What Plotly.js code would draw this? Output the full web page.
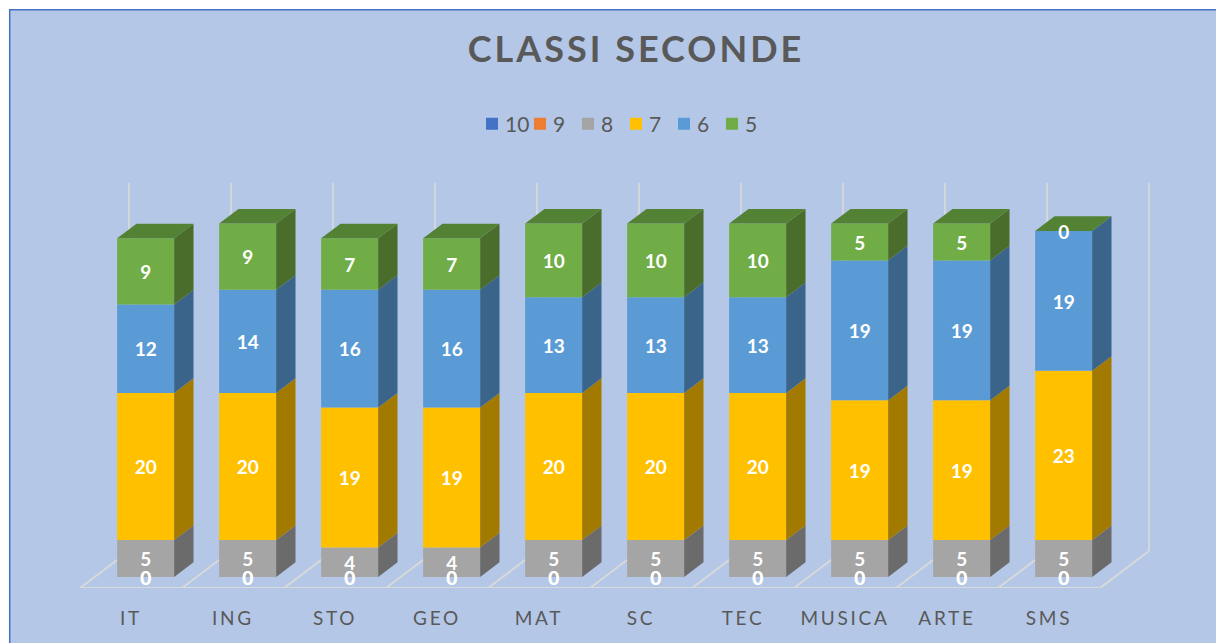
<!DOCTYPE html>
<html>
<head>
<meta charset="utf-8">
<script src="https://cdn.plot.ly/plotly-3.0.1.min.js"></script>
<style>
html,body{margin:0;padding:0;background:#fff;overflow:hidden}
#chart{width:1216px;height:643px}
.gtitle{letter-spacing:3px}
.xtick text{letter-spacing:2.7px}
.legendtext{transform:translateX(-7px)}
.legendbar{transform:scale(1.17)}
</style>
</head>
<body>
<div id="chart"></div>
<script>
const categories = ["IT","ING","STO","GEO","MAT","SC","TEC","MUSICA","ARTE","SMS"];
const s10 = [0,0,0,0,0,0,0,0,0,0];
const s9  = [0,0,0,0,0,0,0,0,0,0];
const s8  = [5,5,4,4,5,5,5,5,5,5];
const s7  = [20,20,19,19,20,20,20,19,19,23];
const s6  = [12,14,16,16,13,13,13,19,19,19];
const s5  = [9,9,7,7,10,10,10,5,5,0];
const seriesNames = ["10","9","8","7","6","5"];
const seriesValues = [s10,s9,s8,s7,s6,s5];
const frontColors = ["#4472C4","#ED7D31","#A5A5A5","#FFC000","#5B9BD5","#70AD47"];
const sideColors  = ["#2F528F","#A5571F","#6B6B6B","#A37A00","#3A648A","#4A6D2B"];
const topColor = "#548235";
const gridColor = "#D3D6DB";
const floorColor = "#D9D9D9";

const W = 1216, H = 643, floorPx = 588, leftPx = 80, unitX = 102, unitY = 7.36;
const DX = 49/unitX, DY = 37/unitY;          // full depth of the floor in axis units
const gap = 0.22, barW = 0.559;              // bar inset and width within a category
const d0 = 0.3, d1 = 0.695;                  // front and back of bars in depth
const yTop = 50;
const labelDrop = 3/unitY;                   // optical centring of the data labels
const proj = (x,v,d)=>[x + d*DX, v + d*DY];

const traces = [];
const cum = categories.map(()=>0);
const bases = seriesValues.map(vals=>{
  const b = cum.slice();
  vals.forEach((v,i)=>cum[i]+=v);
  return b;
});

// front faces, real bars
seriesValues.forEach((vals,k)=>{
  traces.push({
    type:"bar", name:seriesNames[k],
    x:categories.map((_,i)=>proj(i+gap+barW/2,0,d0)[0]),
    y:vals,
    base:bases[k].map(b=>proj(0,b,d0)[1]),
    width:barW,
    marker:{color:frontColors[k], line:{width:0}},
    hoverinfo:"skip", showlegend:true
  });
});

// right side faces
seriesValues.forEach((vals,k)=>{
  const xs=[],ys=[];
  vals.forEach((v,i)=>{
    if(v<=0) return;
    const r=i+gap+barW, b=bases[k][i], t=b+v;
    [[r,b,d0],[r,b,d1],[r,t,d1],[r,t,d0],[r,b,d0]].forEach(p=>{
      const q=proj(p[0],p[1],p[2]); xs.push(q[0]); ys.push(q[1]);
    });
    xs.push(null); ys.push(null);
  });
  if(xs.length) traces.push({type:"scatter",mode:"lines",x:xs,y:ys,fill:"toself",
    fillcolor:sideColors[k],line:{width:0,color:sideColors[k]},hoverinfo:"skip",showlegend:false});
});

// top faces
{
  const xs=[],ys=[];
  categories.forEach((_,i)=>{
    const l=i+gap, r=l+barW, t=cum[i];
    [[l,d0],[r,d0],[r,d1],[l,d1],[l,d0]].forEach(p=>{
      const q=proj(p[0],t,p[1]); xs.push(q[0]); ys.push(q[1]);
    });
    xs.push(null); ys.push(null);
  });
  traces.push({type:"scatter",mode:"lines",x:xs,y:ys,fill:"toself",fillcolor:topColor,
    line:{width:0,color:topColor},hoverinfo:"skip",showlegend:false});
}

// data labels
seriesValues.forEach((vals,k)=>{
  traces.push({type:"scatter",mode:"text",
    x:categories.map((_,i)=>proj(i+gap+barW/2,0,d0)[0]),
    y:vals.map((v,i)=>proj(0,bases[k][i]+v/2,d0)[1]-labelDrop),
    text:vals.map(String),textposition:"middle center",
    textfont:{family:"Lato, 'Open Sans', sans-serif",size:19,color:"#FFFFFF",weight:700},
    hoverinfo:"skip",showlegend:false,cliponaxis:false});
});

// floor and wall lines
const shapes = [
  {type:"rect",xref:"paper",yref:"paper",layer:"below",
   x0:9.7/W,x1:1.01,y0:-0.2,y1:(floorPx-9.7)/floorPx,
   fillcolor:"#B4C7E7",line:{color:"#4472C4",width:1.5}}
];
const seg=(a,b,c,w)=>({type:"line",xref:"x",yref:"y",layer:"below",
  x0:a[0],y0:a[1],x1:b[0],y1:b[1],line:{color:c,width:w}});
for(let i=0;i<=categories.length;i++){
  shapes.push(seg(proj(i,0,0),proj(i,0,1),floorColor,2));
  shapes.push(seg(proj(i,0,1),proj(i,yTop,1),gridColor,2));
}
shapes.push(seg(proj(0,0,0),proj(categories.length,0,0),floorColor,2));

const layout = {
  width:W,height:H,
  paper_bgcolor:"#FFFFFF",plot_bgcolor:"rgba(0,0,0,0)",
  margin:{l:0,r:0,t:0,b:H-floorPx,pad:0},
  barmode:"overlay",
  title:{text:"CLASSI SECONDE",x:636/W,xanchor:"center",y:1-49/H,yanchor:"middle",
    font:{family:"Lato, 'Open Sans', sans-serif",size:36,color:"#595959",weight:700}},
  xaxis:{range:[-leftPx/unitX,(W-leftPx)/unitX],showgrid:false,zeroline:false,showline:false,
    tickmode:"array",tickvals:categories.map((_,i)=>i+0.5),ticktext:categories,
    ticks:"outside",ticklen:13,tickcolor:"rgba(0,0,0,0)",
    tickfont:{family:"Lato, 'Open Sans', sans-serif",size:19,color:"#595959"},tickangle:0,fixedrange:true},
  yaxis:{range:[0,floorPx/unitY],visible:false,fixedrange:true},
  legend:{orientation:"h",x:472/W,xanchor:"left",y:1-124/floorPx,yanchor:"middle",
    entrywidthmode:"pixels",entrywidth:3,traceorder:"normal",bgcolor:"rgba(0,0,0,0)",
    font:{family:"Lato, 'Open Sans', sans-serif",size:21,color:"#595959"}},
  shapes:shapes,
  showlegend:true
};
Plotly.newPlot("chart",traces,layout,{displayModeBar:false,staticPlot:true});
</script>
</body>
</html>
